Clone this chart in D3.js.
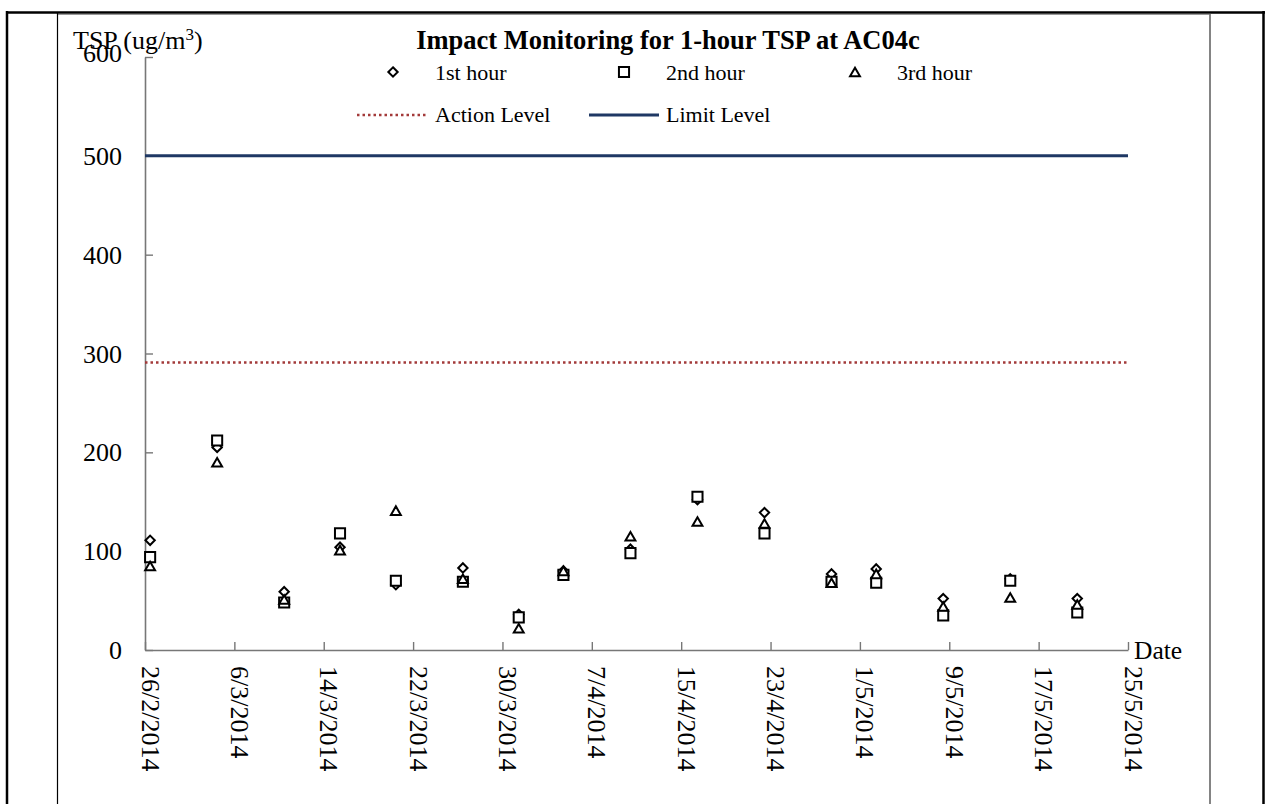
<!DOCTYPE html>
<html>
<head>
<meta charset="utf-8">
<script src="https://cdn.jsdelivr.net/npm/d3@7"></script>
<style>
  body { margin: 0; background: #fff; }
  svg { display: block; font-family: "Liberation Serif", "Times New Roman", serif; }
</style>
</head>
<body>
<div id="chart"></div>
<script>
// sampling dates (all sampled late morning)
var sampleDates = ["2014-02-26", "2014-03-04", "2014-03-10", "2014-03-15", "2014-03-20", "2014-03-26",
                   "2014-03-31", "2014-04-04", "2014-04-10", "2014-04-16", "2014-04-22", "2014-04-28",
                   "2014-05-02", "2014-05-08", "2014-05-14", "2014-05-20"];
var sampleTime = "11:00";
var hour1 = [111, 205, 59, 104, 66, 83, 36, 80, 102, 152, 139, 77, 82, 52, 72, 52];
var hour2 = [94, 212, 48, 118, 70, 69, 33, 76, 98, 155, 118, 69, 68, 35, 70, 38];
var hour3 = [85, 190, 51, 101, 141, 72, 22, 80, 115, 130, 128, 68, 77, 44, 53, 46];
var actionLevel = 291;
var limitLevel = 500;
var xTickLabels = ["26/2/2014", "6/3/2014", "14/3/2014", "22/3/2014", "30/3/2014", "7/4/2014",
                   "15/4/2014", "23/4/2014", "1/5/2014", "9/5/2014", "17/5/2014", "25/5/2014"];
var yTicks = [0, 100, 200, 300, 400, 500, 600];

var W = 1265, H = 804;
var parseDT = d3.timeParse("%Y-%m-%d %H:%M"),
    parseTick = d3.timeParse("%d/%m/%Y");

var svg = d3.select("#chart").append("svg")
    .attr("width", W)
    .attr("height", H);

// table frame around the chart
svg.append("line").attr("x1", 7).attr("x2", W).attr("y1", 12.5).attr("y2", 12.5)
    .attr("stroke", "#000").attr("stroke-width", 2.5);
svg.append("line").attr("x1", 57.5).attr("x2", 1210).attr("y1", 14.5).attr("y2", 14.5)
    .attr("stroke", "#999").attr("stroke-width", 1);
svg.append("line").attr("x1", 7).attr("x2", 7).attr("y1", 11).attr("y2", H)
    .attr("stroke", "#000").attr("stroke-width", 2.5);
svg.append("line").attr("x1", 57.5).attr("x2", 57.5).attr("y1", 12).attr("y2", H)
    .attr("stroke", "#000").attr("stroke-width", 1.2);
svg.append("line").attr("x1", 1210).attr("x2", 1210).attr("y1", 14).attr("y2", H)
    .attr("stroke", "#777").attr("stroke-width", 1.8);
svg.append("line").attr("x1", 1263.5).attr("x2", 1263.5).attr("y1", 11).attr("y2", H)
    .attr("stroke", "#000").attr("stroke-width", 2.5);

var x = d3.scaleTime()
    .domain([parseTick(xTickLabels[0]), parseTick(xTickLabels[xTickLabels.length - 1])])
    .range([145, 1128]);

var y = d3.scaleLinear()
    .domain([0, 600])
    .range([650, 57]);

// x axis, ticks pointing up, labels turned down
var xAxis = svg.append("g")
    .attr("transform", "translate(0," + y(0) + ")")
    .call(d3.axisBottom(x)
        .tickValues(xTickLabels.map(parseTick))
        .tickFormat(function(d, i) { return xTickLabels[i]; })
        .tickSizeInner(-8)
        .tickSizeOuter(0));
xAxis.select(".domain").attr("stroke", "#777").attr("stroke-width", 1.6);
xAxis.selectAll(".tick line").attr("stroke", "#777").attr("stroke-width", 1.4);
xAxis.selectAll(".tick text")
    .attr("transform", "rotate(90)")
    .attr("x", 16)
    .attr("y", 4)
    .attr("dy", 0)
    .style("text-anchor", "start")
    .style("font-size", "26px")
    .style("font-family", "Liberation Serif")
    .attr("fill", "#000");

// y axis, ticks pointing right
var yAxis = svg.append("g")
    .attr("transform", "translate(" + x.range()[0] + ",0)")
    .call(d3.axisLeft(y)
        .tickValues(yTicks)
        .tickSizeInner(-8)
        .tickSizeOuter(0)
        .tickPadding(23));
yAxis.select(".domain").attr("stroke", "#777").attr("stroke-width", 1.6);
yAxis.selectAll(".tick line").attr("stroke", "#777").attr("stroke-width", 1.4);
yAxis.selectAll(".tick text")
    .style("font-size", "26px")
    .style("font-family", "Liberation Serif")
    .attr("fill", "#000")
    .attr("dy", "0.33em");
// top label sits a little higher, as in the original
yAxis.selectAll(".tick text").filter(function(d) { return d === 600; })
    .attr("dy", "0.18em");

svg.append("text")
    .attr("x", 1134)
    .attr("y", 659)
    .style("font-size", "25.5px")
    .text("Date");

// axis title with superscript
var yt = svg.append("text")
    .attr("x", 73)
    .attr("y", 49)
    .style("font-size", "26px");
yt.append("tspan").text("TSP (ug/m");
yt.append("tspan").attr("dy", -9).style("font-size", "17px").text("3");
yt.append("tspan").attr("dy", 9).text(")");

svg.append("text")
    .attr("x", 668)
    .attr("y", 49)
    .style("text-anchor", "middle")
    .style("font-size", "26.5px")
    .style("font-weight", "bold")
    .text("Impact Monitoring for 1-hour TSP at AC04c");

// action / limit levels
svg.append("line")
    .attr("x1", x.range()[0]).attr("x2", x.range()[1])
    .attr("y1", y(actionLevel)).attr("y2", y(actionLevel))
    .attr("stroke", "#a33a3a")
    .attr("stroke-width", 2.5)
    .attr("stroke-dasharray", "2.5,3");

svg.append("line")
    .attr("x1", x.range()[0]).attr("x2", x.range()[1])
    .attr("y1", y(limitLevel)).attr("y2", y(limitLevel))
    .attr("stroke", "#1f3864")
    .attr("stroke-width", 3);

// markers
var diamond = d3.symbol().type(d3.symbolDiamond2).size(56),
    square = d3.symbol().type(d3.symbolSquare2).size(130),
    triangle = d3.symbol().type(d3.symbolTriangle2).size(70);

var series = [
    { name: "1st hour", values: hour1, shape: diamond, dy: 0 },
    { name: "2nd hour", values: hour2, shape: square, dy: 0 },
    { name: "3rd hour", values: hour3, shape: triangle, dy: 1.4 }
];

series.forEach(function(s) {
    svg.append("g").selectAll("path")
        .data(s.values)
        .enter()
        .append("path")
        .attr("d", s.shape())
        .attr("transform", function(d, i) {
            return "translate(" + x(parseDT(sampleDates[i] + " " + sampleTime)) + "," + (y(d) + s.dy) + ")";
        })
        .attr("fill", "#fff")
        .attr("stroke", "#000")
        .attr("stroke-width", 2);
});

// legend
var legendRow1 = [393, 624, 855];
series.forEach(function(s, i) {
    svg.append("path")
        .attr("d", s.shape())
        .attr("transform", "translate(" + legendRow1[i] + "," + (72 + s.dy) + ")")
        .attr("fill", "#fff")
        .attr("stroke", "#000")
        .attr("stroke-width", 2);
    svg.append("text")
        .attr("x", legendRow1[i] + 42)
        .attr("y", 80)
        .style("font-size", "22px")
        .text(s.name);
});

svg.append("line")
    .attr("x1", 357).attr("x2", 428).attr("y1", 115).attr("y2", 115)
    .attr("stroke", "#a33a3a").attr("stroke-width", 2.5).attr("stroke-dasharray", "2.5,3");
svg.append("text").attr("x", 435).attr("y", 122).style("font-size", "22px").text("Action Level");

svg.append("line")
    .attr("x1", 589).attr("x2", 659).attr("y1", 115).attr("y2", 115)
    .attr("stroke", "#1f3864").attr("stroke-width", 3);
svg.append("text").attr("x", 666).attr("y", 122).style("font-size", "22px").text("Limit Level");
</script>
</body>
</html>
